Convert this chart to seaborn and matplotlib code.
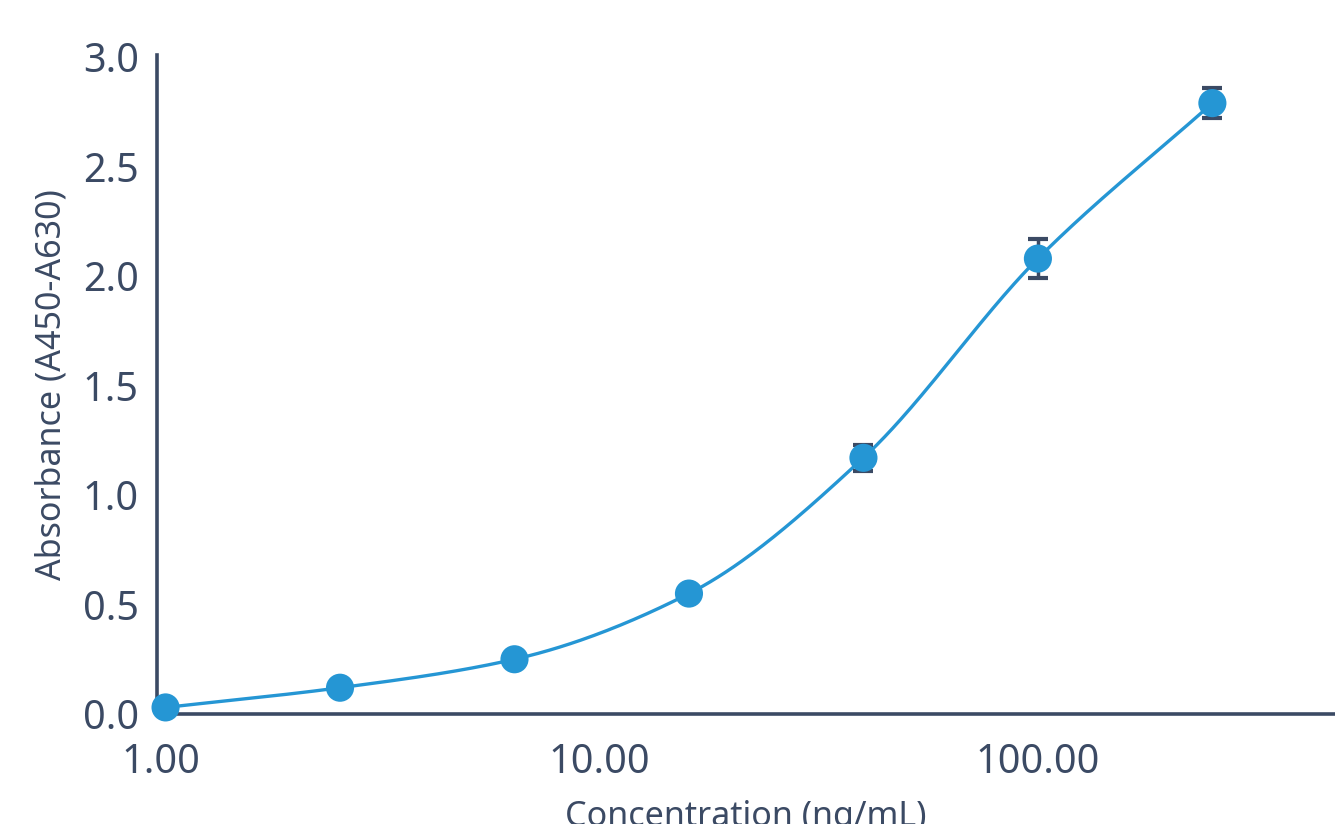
import numpy as np
import pandas as pd
import matplotlib
matplotlib.use("Agg")
import matplotlib.pyplot as plt
import seaborn as sns

# Standard curve: 2.5-fold serial dilution
concentration = [1.024, 2.56, 6.4, 16.0, 40.0, 100.0, 250.0]
absorbance = [0.03, 0.12, 0.25, 0.55, 1.17, 2.08, 2.79]
abs_sd = [0.0, 0.0, 0.0, 0.0, 0.06, 0.09, 0.07]
x_ticks = [1.0, 10.0, 100.0]
x_tick_labels = ["1.00", "10.00", "100.00"]
y_ticks = [0.0, 0.5, 1.0, 1.5, 2.0, 2.5, 3.0]

TEXT = "#3b4a64"
BLUE = "#2596d4"

sns.set_theme(style="white")
plt.rcParams["font.family"] = ["Noto Sans", "DejaVu Sans"]
plt.rcParams["font.weight"] = "medium"

df = pd.DataFrame({"conc": concentration, "od": absorbance, "sd": abs_sd})


def monotone_curve(x, y, n=400):
    """Fritsch-Carlson monotone cubic through (log10 x, y)."""
    lx = np.log10(np.asarray(x, float))
    y = np.asarray(y, float)
    h = np.diff(lx)
    d = np.diff(y) / h
    m = np.zeros_like(y)
    m[0], m[-1] = d[0], d[-1]
    for i in range(1, len(y) - 1):
        if d[i - 1] * d[i] > 0:
            w1 = 2 * h[i] + h[i - 1]
            w2 = h[i] + 2 * h[i - 1]
            m[i] = (w1 + w2) / (w1 / d[i - 1] + w2 / d[i])
    xs, ys = [], []
    for i in range(len(h)):
        t = np.linspace(0, 1, n // len(h), endpoint=(i == len(h) - 1))
        h00 = 2 * t**3 - 3 * t**2 + 1
        h10 = t**3 - 2 * t**2 + t
        h01 = -2 * t**3 + 3 * t**2
        h11 = t**3 - t**2
        xs.append(lx[i] + t * h[i])
        ys.append(h00 * y[i] + h10 * h[i] * m[i] + h01 * y[i + 1] + h11 * h[i] * m[i + 1])
    return 10 ** np.concatenate(xs), np.concatenate(ys)


cx, cy = monotone_curve(df["conc"], df["od"])
curve = pd.DataFrame({"conc": cx, "od": cy})

fig = plt.figure(figsize=(13.35, 8.24), dpi=100)
ax = fig.add_axes([0.1176, 0.1335, 0.8824, 0.7998])

sns.lineplot(data=curve, x="conc", y="od", ax=ax, color=BLUE, linewidth=2.4,
             zorder=2, clip_on=False, sort=False)

err = df[df["sd"] > 0]
ax.errorbar(err["conc"], err["od"], yerr=err["sd"], fmt="none", ecolor=TEXT,
            elinewidth=2.5, capsize=7, capthick=3, zorder=3)

sns.scatterplot(data=df, x="conc", y="od", ax=ax, color=BLUE, s=410,
                edgecolor="none", zorder=4, clip_on=False)

ax.set_xscale("log")
ax.set_xlim(0.979, 476)
ax.set_ylim(0, 3.01)
ax.set_xticks(x_ticks)
ax.set_xticklabels(x_tick_labels)
ax.minorticks_off()
ax.set_yticks(y_ticks)
ax.set_yticklabels([f"{v:.1f}" for v in y_ticks])

ax.tick_params(axis="both", length=0, labelsize=28.5, colors=TEXT)
ax.tick_params(axis="y", pad=13)
ax.tick_params(axis="x", pad=21)

ax.set_xlabel("Concentration (ng/mL)", fontsize=24.5, color=TEXT, labelpad=12)
ax.set_ylabel("Absorbance (A450-A630)", fontsize=24.5, color=TEXT, labelpad=10)

for side in ("top", "right"):
    ax.spines[side].set_visible(False)
for side in ("left", "bottom"):
    ax.spines[side].set_color(TEXT)
    ax.spines[side].set_linewidth(2.6)

fig.savefig("out.png", dpi=100)
